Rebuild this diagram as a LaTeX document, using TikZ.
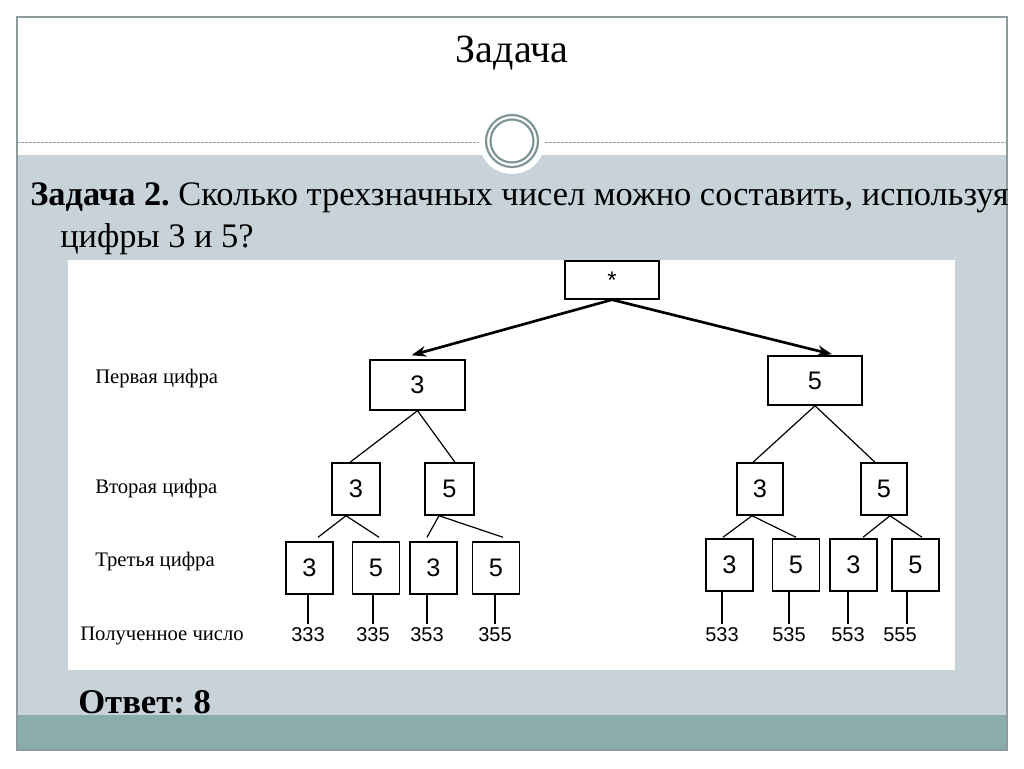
\documentclass[tikz,border=0pt]{standalone}
\usepackage{fontspec}
\setmainfont{Liberation Serif}
\newfontfamily\digf{Liberation Sans}
\usetikzlibrary{calc,arrows.meta}
\frenchspacing
\definecolor{slidegray}{HTML}{C8D3D9}
\definecolor{bandteal}{HTML}{8AACAB}
\definecolor{framegray}{HTML}{8C9C9E}
\definecolor{ringgray}{HTML}{7E9394}
\tikzset{
  dbox/.style={draw=black,line width=1.1pt,minimum width=#1*0.75pt,inner sep=0pt},
  dbox/.default=47,
  bh/.style={minimum height=#1*0.75pt},
  bigdig/.style={font=\digf\fontsize{19}{19}\selectfont},
  numlab/.style={font=\digf\fontsize{15}{15}\selectfont,inner sep=0pt},
  rowlab/.style={font=\fontsize{15.5}{15.5}\selectfont,anchor=west,inner sep=0pt},
  conn/.style={draw=black,line width=0.9pt},
  thickarr/.style={draw=black,line width=2pt,-{Stealth[length=11pt,width=8pt]}},
}
\begin{document}
\begin{tikzpicture}[x=0.75pt,y=-0.75pt]
\useasboundingbox (0,0) rectangle (1024,768);
\fill[white] (0,0) rectangle (1024,768);
% slide background
\fill[slidegray] (17,155) rectangle (1007,715);
\fill[bandteal] (17,715) rectangle (1007,750);
\draw[framegray,line width=0.8pt] (17,17) rectangle (1007,750);
\draw[framegray,line width=0.6pt,dash pattern=on 2pt off 1pt] (17,142) -- (1007,142);
\fill[white] (512,141) circle (33);
\draw[ringgray,line width=1.6pt] (512,141) circle (26);
\draw[ringgray,line width=1.6pt] (512,141) circle (21.5);
% texts
\node[anchor=base,inner sep=0pt,font=\fontsize{30}{30}\selectfont] (title) at (512,62) {Задача};
\node[anchor=base west,inner sep=0pt,font=\fontsize{25.8}{25.8}\selectfont] (q1) at (30,205) {\textbf{Задача 2.} Сколько трехзначных чисел можно составить, используя};
\node[anchor=base west,inner sep=0pt,font=\fontsize{25.8}{25.8}\selectfont] (q2) at (60,247) {цифры 3 и 5?};
\node[anchor=base west,inner sep=0pt,font=\bfseries\fontsize{26}{26}\selectfont] (ans) at (78,713) {Ответ: 8};
% diagram panel
\fill[white] (68,260) rectangle (955,670);
% row labels
\node[rowlab] (r1) at (95,379) {Первая цифра};
\node[rowlab] (r2) at (95,489) {Вторая цифра};
\node[rowlab] (r3) at (95,562) {Третья цифра};
\node[rowlab] (r4) at (80,636) {Полученное число};
% boxes
\node[dbox=94,bh=38,font=\digf\fontsize{18}{18}\selectfont] (top) at (612,280) {*};
\node[dbox=95,bh=50,bigdig] (La) at (417.5,385) {3};
\node[dbox=94,bh=49,bigdig] (Lb) at (815,380.5) {5};
\node[dbox=48,bh=52,bigdig] (a3) at (356,489) {3};
\node[dbox=49,bh=52,bigdig] (a5) at (449.5,489) {5};
\node[dbox=46,bh=52,bigdig] (b3) at (760,489) {3};
\node[dbox=46,bh=52,bigdig] (b5) at (884,489) {5};
\node[dbox,bh=52,bigdig] (c1) at (309.5,568) {3};
\node[dbox,bh=52,bigdig] (c2) at (376,568) {5};
\node[dbox,bh=52,bigdig] (c3) at (433.5,568) {3};
\node[dbox,bh=52,bigdig] (c4) at (496,568) {5};
\node[dbox,bh=52,bigdig] (d1) at (729.5,565) {3};
\node[dbox,bh=52,bigdig] (d2) at (796,565) {5};
\node[dbox,bh=52,bigdig] (d3) at (853.5,565) {3};
\node[dbox,bh=52,bigdig] (d4) at (915.5,565) {5};
% results
\node[numlab] (n1) at (308,635) {333};
\node[numlab] (n2) at (373,635) {335};
\node[numlab] (n3) at (427,635) {353};
\node[numlab] (n4) at (495,635) {355};
\node[numlab] (m1) at (722,635) {533};
\node[numlab] (m2) at (789,635) {535};
\node[numlab] (m3) at (848,635) {553};
\node[numlab] (m4) at (900,635) {555};
\coordinate (s4) at ($(m4.north)+(7,-4)$);
% arrows
\draw[thickarr] (top.south) -- ($(La.north)+(-6,-4)$);
\draw[thickarr] (top.south) -- ($(Lb.north)+(17,-1)$);
% level 1 -> 2
\draw[conn] (La.south) -- ($(a3.north)+(-6,0)$);
\draw[conn] (La.south) -- ($(a5.north)+(5.5,0)$);
\draw[conn] (Lb.south) -- ($(b3.north)+(-7,0)$);
\draw[conn] (Lb.south) -- ($(b5.north)+(-9,0)$);
% level 2 -> 3
\draw[conn] ($(a3.south)+(-10,0)$) -- ($(c1.north)+(8.5,-4)$);
\draw[conn] ($(a3.south)+(-10,0)$) -- ($(c2.north)+(3,-4)$);
\draw[conn] ($(a5.south)+(-10.5,0)$) -- ($(c3.north)+(-6.5,-4)$);
\draw[conn] ($(a5.south)+(-10.5,0)$) -- ($(c4.north)+(7,-4)$);
\draw[conn] ($(b3.south)+(-8,0)$) -- ($(d1.north)+(-6.5,-1)$);
\draw[conn] ($(b3.south)+(-8,0)$) -- ($(d2.north)+(0,-1)$);
\draw[conn] ($(b5.south)+(6,0)$) -- ($(d3.north)+(9.5,-1)$);
\draw[conn] ($(b5.south)+(6,0)$) -- ($(d4.north)+(6.5,-1)$);
% stems
\draw[conn] (c1.south -| n1.north) -- ($(n1.north)+(0,-4)$);
\draw[conn] (c2.south -| n2.north) -- ($(n2.north)+(0,-4)$);
\draw[conn] (c3.south -| n3.north) -- ($(n3.north)+(0,-4)$);
\draw[conn] (c4.south -| n4.north) -- ($(n4.north)+(0,-4)$);
\draw[conn] (d1.south -| m1.north) -- ($(m1.north)+(0,-4)$);
\draw[conn] (d2.south -| m2.north) -- ($(m2.north)+(0,-4)$);
\draw[conn] (d3.south -| m3.north) -- ($(m3.north)+(0,-4)$);
\draw[conn] (d4.south -| s4) -- (s4);
\end{tikzpicture}
\end{document}
